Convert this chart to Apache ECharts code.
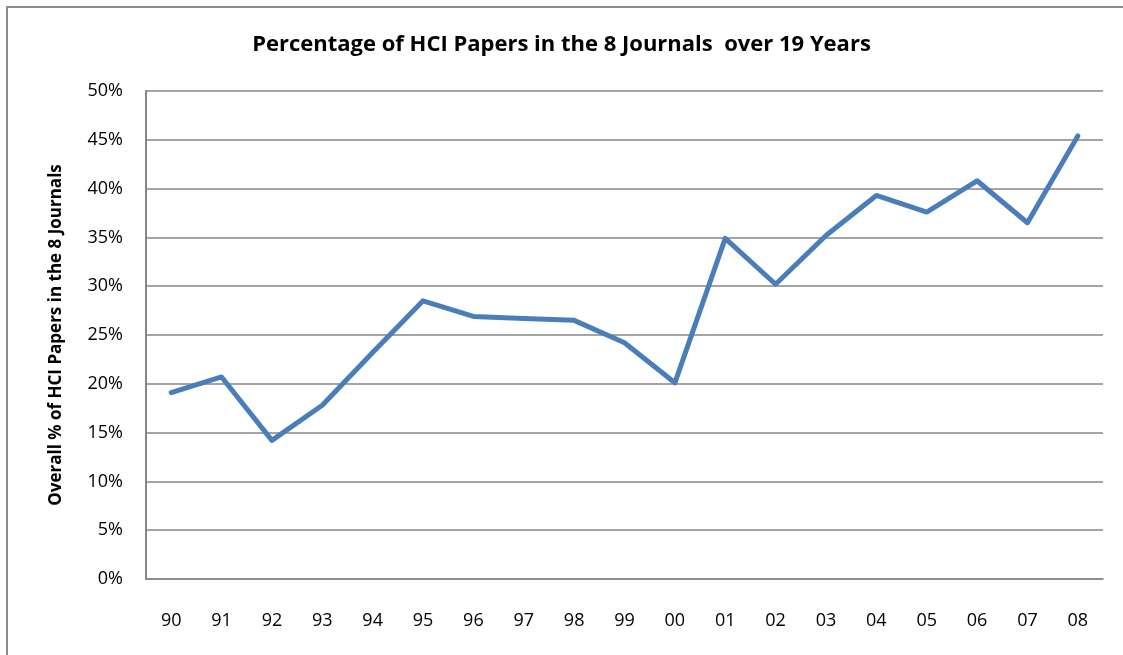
<!DOCTYPE html>
<html>
<head>
<meta charset="utf-8">
<title>Percentage of HCI Papers in the 8 Journals over 19 Years</title>
<script src="https://cdn.jsdelivr.net/npm/echarts@6/dist/echarts.min.js"></script>
<style>
  html, body { margin: 0; padding: 0; background: #fff; }
  #chart { width: 1123px; height: 655px; }
</style>
</head>
<body>
<div id="chart"></div>
<script>
// Publication years (two-digit labels) and the share of HCI papers, in percent
const years = ['90', '91', '92', '93', '94', '95', '96', '97', '98', '99',
               '00', '01', '02', '03', '04', '05', '06', '07', '08'];
const hciShare = [19.1, 20.7, 14.2, 17.8, 23.2, 28.5, 26.9, 26.7, 26.5, 24.2,
                  20.1, 34.9, 30.2, 35.2, 39.3, 37.6, 40.8, 36.5, 45.4];
const yTicks = [0, 5, 10, 15, 20, 25, 30, 35, 40, 45, 50];

const FONT = '"Open Sans"';
const chart = echarts.init(document.getElementById('chart'), null, { renderer: 'canvas' });

chart.setOption({
  backgroundColor: '#ffffff',
  animation: false,
  title: {
    text: 'Percentage of HCI Papers in the 8 Journals  over 19 Years',
    left: 'center',
    top: 29,
    textStyle: { fontFamily: FONT, fontWeight: 'bold', fontSize: 22, color: '#000' }
  },
  graphic: [{
    type: 'rect',
    shape: { x: 7, y: 7, width: 1300, height: 800 },
    style: { fill: 'none', stroke: '#8c8c8c', lineWidth: 2 },
    silent: true,
    z: -1
  }],
  grid: { left: 146, right: 20, top: 91, bottom: 76, containLabel: false },
  xAxis: {
    type: 'category',
    data: years,
    boundaryGap: true,
    axisLine: { show: true, lineStyle: { color: '#868686', width: 1.5 } },
    axisTick: { show: false },
    axisLabel: { margin: 33, fontFamily: FONT, fontSize: 18, color: '#000' },
    splitLine: { show: false }
  },
  yAxis: {
    type: 'value',
    min: yTicks[0],
    max: yTicks[yTicks.length - 1],
    interval: 5,
    name: 'Overall % of HCI Papers in the 8 Journals',
    nameLocation: 'middle',
    nameGap: 81,
    nameTextStyle: { fontFamily: FONT, fontWeight: 'bold', fontSize: 17, color: '#000' },
    axisLine: { show: true, lineStyle: { color: '#868686', width: 2 } },
    axisTick: { show: false },
    axisLabel: { margin: 23, fontFamily: FONT, fontSize: 18, color: '#000', formatter: '{value}%', padding: [3, 0, 0, 0] },
    splitLine: { show: true, lineStyle: { color: '#868686', width: 1.5 } }
  },
  series: [{
    type: 'line',
    data: hciShare,
    showSymbol: false,
    symbol: 'none',
    lineStyle: { color: '#4a7ebb', width: 5, join: 'round', cap: 'round' },
    itemStyle: { color: '#4a7ebb' }
  }]
});
</script>
</body>
</html>
